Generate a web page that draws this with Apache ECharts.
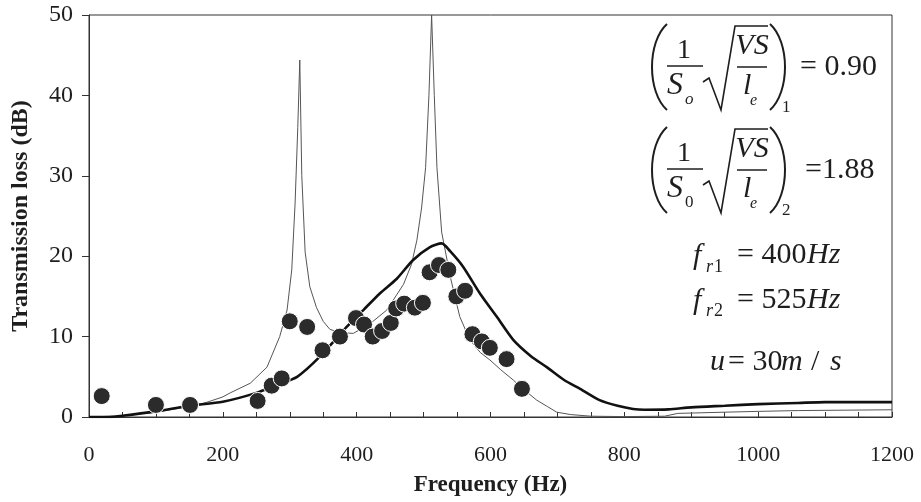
<!DOCTYPE html>
<html>
<head>
<meta charset="utf-8">
<script src="https://cdn.jsdelivr.net/npm/echarts@6/dist/echarts.min.js"></script>
<style>html,body{margin:0;padding:0;background:#fff}#c{width:921px;height:502px}</style>
</head>
<body>
<div id="c"></div>
<script>
// ---- data ----
const xTicks = [0, 200, 400, 600, 800, 1000, 1200];
const yTicks = [0, 10, 20, 30, 40, 50];
// thick solid curve
const thickFreq = [0,30,50,100,150,200,250,280,311,345,385,410,435,460,484,509,527,540,559,584,610,634,660,684,710,734,763,790,813,830,866,900,950,1000,1060,1100,1200];
const thickTL   = [0,0,0.15,0.7,1.4,1.9,3.0,4.0,5.0,7.5,11.2,13.3,15.4,17.2,19.5,21.1,21.6,20.6,18.7,15.4,12.4,9.6,7.6,6.2,4.6,3.5,2.1,1.4,1.0,0.9,0.95,1.2,1.4,1.6,1.75,1.85,1.85];
// thin curve with two resonance peaks
const thinFreq = [0,50,100,150,175,200,211,241,266,285,296,303,308,312,315,318,323,330,340,350,360,375,395,420,445,470,482,490,497,503,508,512,516,520,527,540,554,569,585,599,615,634,650,669,685,699,720,750,800,860,880,950,1000,1060,1200];
const thinTL   = [0,0.15,0.6,1.3,1.8,2.5,3.0,4.2,6.2,10,13.3,18.3,26.6,36,44.4,30,20.5,16.2,13.6,11.9,10.9,10.5,10.4,11.6,13.3,16.5,19,22,26,31,40,50,40,31,23,17.4,12.5,9.6,8.0,7.1,5.9,4.6,3.4,2.1,1.3,0.6,0.3,0.1,0.05,0.1,0.45,0.6,0.7,0.8,0.9];
// measured points
const measFreq = [19,100,151,252,273,288,300,326,349,375,399,411,424,438,451,459,471,487,499,509,523,537,549,562,573,587,599,624,647];
const measTL   = [2.6,1.5,1.5,2.0,3.9,4.8,11.9,11.2,8.3,10.0,12.3,11.5,10.0,10.7,11.7,13.5,14.1,13.6,14.2,18.0,18.9,18.3,15.0,15.7,10.3,9.4,8.6,7.2,3.5];

const zip = (a, b) => a.map((v, i) => [v, b[i]]);
const FF = '"Liberation Serif","Times New Roman",serif';
const INK = '#1e1e1e';

function txt(x, y, s, size, italic, align) {
  return {type: 'text', x: x, y: y, z: 100,
    style: {text: s, font: (italic ? 'italic ' : '') + size + 'px ' + FF, fill: INK,
      align: align || 'left', verticalAlign: 'middle'}};
}
function seg(x1, y1, x2, y2, w) {
  return {type: 'line', z: 100, shape: {x1: x1, y1: y1, x2: x2, y2: y2}, style: {stroke: INK, lineWidth: w || 1.5}};
}
function formula(dy, subS, subSItalic, idx, valText, valX) {
  const g = [];
  g.push({type: 'bezierCurve', z: 100, shape: {x1: 667, y1: 24 + dy, cpx1: 647, cpy1: 42 + dy, cpx2: 647, cpy2: 92 + dy, x2: 667, y2: 110 + dy}, style: {stroke: INK, fill: null, lineWidth: 2}});
  g.push({type: 'bezierCurve', z: 100, shape: {x1: 770, y1: 24 + dy, cpx1: 790, cpy1: 42 + dy, cpx2: 790, cpy2: 92 + dy, x2: 770, y2: 110 + dy}, style: {stroke: INK, fill: null, lineWidth: 2}});
  g.push(txt(684, 51 + dy, '1', 28, false, 'center'));
  g.push(seg(667, 66 + dy, 703, 66 + dy, 1.5));
  g.push(txt(667, 86 + dy, 'S', 32, true));
  g.push(txt(685, 100 + dy, subS, 17, subSItalic));
  g.push({type: 'polyline', z: 100, shape: {points: [[703, 82 + dy], [709, 78 + dy], [721, 110 + dy], [735, 26 + dy], [768, 26 + dy]]}, style: {stroke: INK, fill: null, lineWidth: 1.6}});
  g.push(txt(752, 46 + dy, 'VS', 30, true, 'center'));
  g.push(seg(737, 67 + dy, 767, 67 + dy, 1.5));
  g.push(txt(743, 86 + dy, 'l', 30, true));
  g.push(txt(750, 101 + dy, 'e', 16, true));
  g.push(txt(782, 108 + dy, idx, 17, false));
  g.push(txt(valX, 67 + dy, valText, 30, false));
  return g;
}

const graphics = [].concat(
  formula(0, 'o', true, '1', '= 0.90', 800),
  formula(103, '0', false, '2', '=1.88', 805),
  [
    txt(693, 256, 'f', 30, true), txt(706, 267, 'r', 18, true), txt(714, 267, '1', 18, false),
    txt(737, 255, '= 400', 30, false), txt(807, 255, 'Hz', 30, true),
    txt(693, 301, 'f', 30, true), txt(706, 311, 'r', 18, true), txt(714, 311, '2', 18, false),
    txt(737, 300, '= 525', 30, false), txt(807, 300, 'Hz', 30, true),
    txt(710, 362, 'u', 30, true), txt(728, 362, '= 30', 30, false), txt(781, 362, 'm', 30, true),
    txt(811, 362, '/', 30, false), txt(830, 362, 's', 30, true)
  ]
);

const chart = echarts.init(document.getElementById('c'), null, {renderer: 'canvas'});
chart.setOption({
  backgroundColor: '#fff',
  animation: false,
  grid: {left: 89, right: 29, top: 15, bottom: 85, show: true, borderColor: '#333', borderWidth: 1, backgroundColor: 'transparent'},
  xAxis: {
    type: 'value', min: xTicks[0], max: xTicks[xTicks.length - 1], interval: 50,
    name: 'Frequency (Hz)', nameLocation: 'middle', nameGap: 57,
    nameTextStyle: {fontFamily: FF, fontWeight: 'bold', fontSize: 23, color: INK},
    axisLine: {lineStyle: {color: '#333', width: 1}},
    axisTick: {inside: true, length: 5, lineStyle: {color: '#333'}},
    splitLine: {show: false},
    axisLabel: {fontFamily: FF, fontSize: 22, color: INK, margin: 27,
      formatter: v => (xTicks.indexOf(v) >= 0 ? String(v) : '')}
  },
  yAxis: {
    type: 'value', min: yTicks[0], max: yTicks[yTicks.length - 1], interval: 10,
    name: 'Transmission loss (dB)', nameLocation: 'middle', nameGap: 56,
    nameTextStyle: {fontFamily: FF, fontWeight: 'bold', fontSize: 24, color: INK},
    axisLine: {lineStyle: {color: '#333', width: 1}},
    axisTick: {inside: false, length: 7, lineStyle: {color: '#333'}},
    splitLine: {show: false},
    axisLabel: {fontFamily: FF, fontSize: 24, color: INK, margin: 16}
  },
  series: [
    {type: 'line', data: zip(thinFreq, thinTL), showSymbol: false, symbol: 'none', clip: true,
      smooth: false,
      lineStyle: {color: '#555', width: 1}, z: 2},
    {type: 'line', data: zip(thickFreq, thickTL), showSymbol: false, symbol: 'none', clip: true,
      smooth: 0.25,
      lineStyle: {color: '#111', width: 2.6}, z: 3},
    {type: 'scatter', data: zip(measFreq, measTL), symbol: 'circle', symbolSize: 17,
      itemStyle: {color: '#2b2b2b', borderColor: '#ffffff', borderWidth: 1, opacity: 1}, z: 4}
  ],
  graphic: graphics
});
</script>
</body>
</html>
